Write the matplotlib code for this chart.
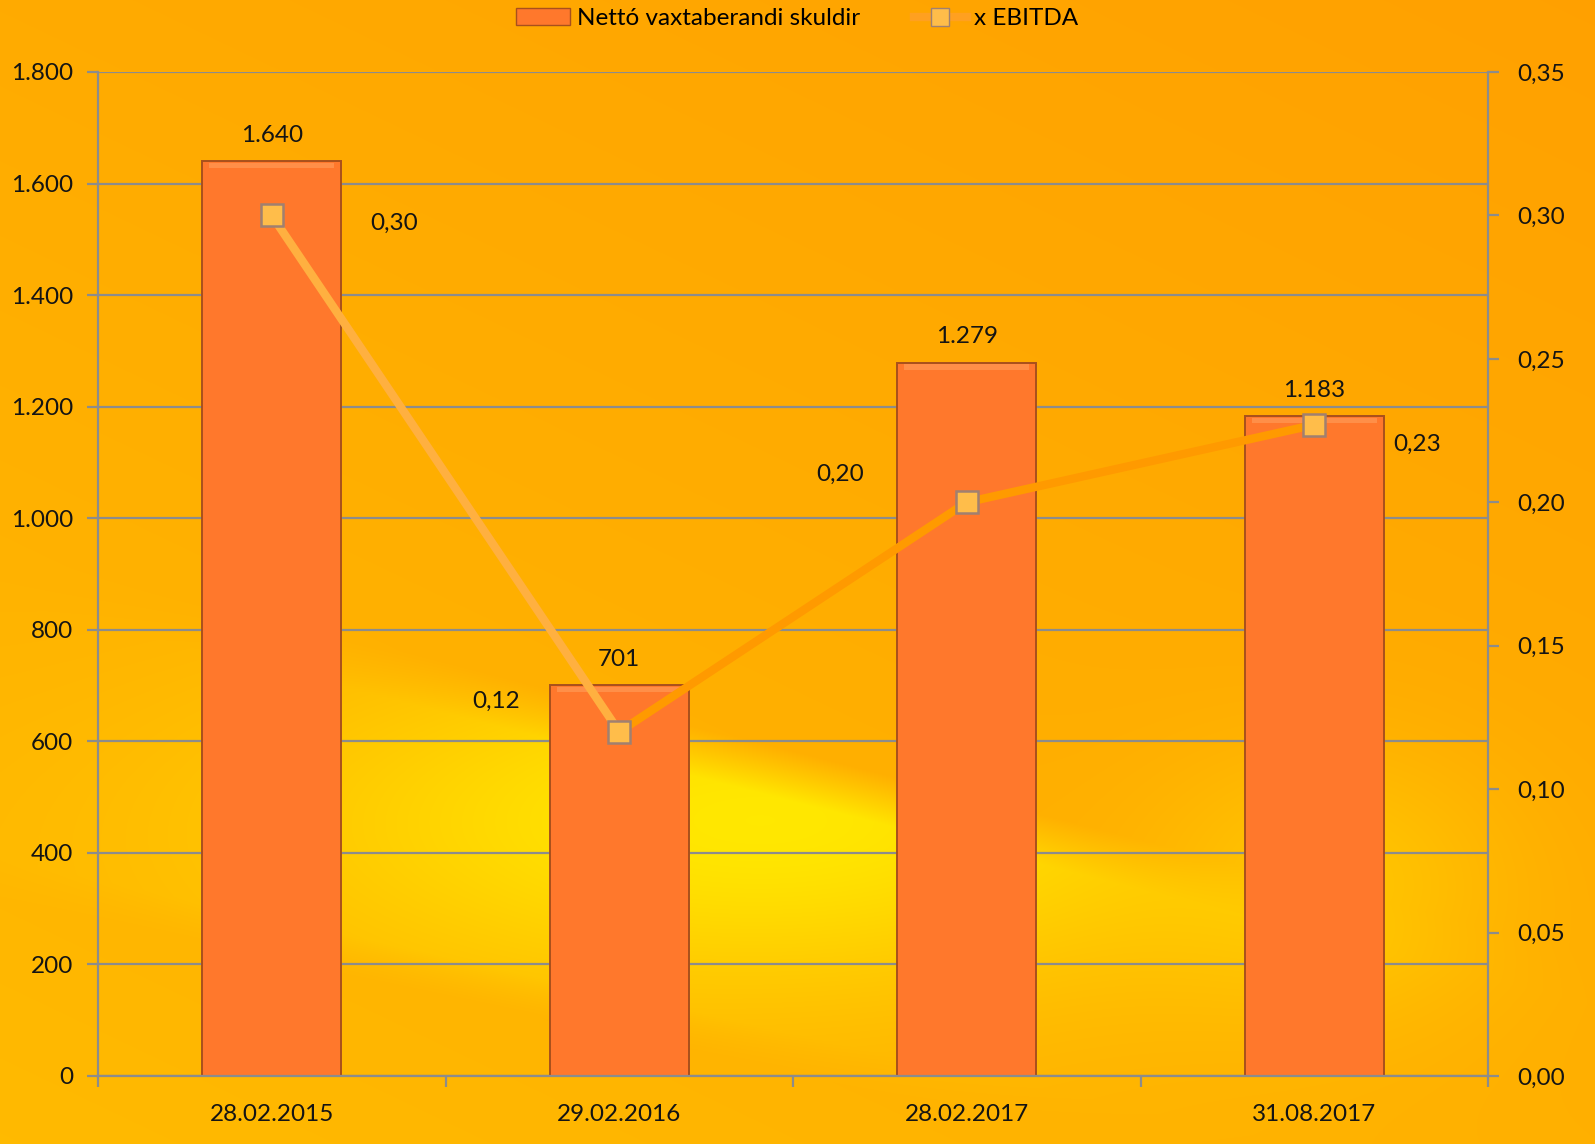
import numpy as np
import matplotlib
matplotlib.use("Agg")
import matplotlib.pyplot as plt
from matplotlib.lines import Line2D
from matplotlib.patches import Patch

categories = ["28.02.2015", "29.02.2016", "28.02.2017", "31.08.2017"]
debt = [1640, 701, 1279, 1183]
debt_labels = ["1.640", "701", "1.279", "1.183"]
ebitda = [0.30, 0.12, 0.20, 0.227]
ebitda_labels = ["0,30", "0,12", "0,20", "0,23"]
left_ticks = [0, 200, 400, 600, 800, 1000, 1200, 1400, 1600, 1800]
left_ticklabels = ["0", "200", "400", "600", "800", "1.000", "1.200", "1.400", "1.600", "1.800"]
right_ticks = [0.0, 0.05, 0.10, 0.15, 0.20, 0.25, 0.30, 0.35]
right_ticklabels = ["0,00", "0,05", "0,10", "0,15", "0,20", "0,25", "0,30", "0,35"]

plt.rcParams['font.family'] = ['Lato', 'DejaVu Sans']
FS = 17.5
TXT = "#141414"

W, H = 1595, 1144
fig = plt.figure(figsize=(W / 100, H / 100), dpi=100)

# background texture (gradient)
yy, xx = np.mgrid[0:H, 0:W].astype(float)
orange = np.array([1.0, 0.63, 0.0])
amber = np.array([1.0, 0.73, 0.0])
yellow = np.array([1.0, 0.91, 0.0])
d = (yy - (600 + (xx - 100) * (380 / 1495)))
band = np.clip(d / 50 + 0.5, 0, 1) * np.exp(-((xx - 760) / 480) ** 2 - ((yy - 820) / 170) ** 2)
edge = np.clip(((640 + (xx - 100) * (330 / 1495)) + 260 - yy) / 40 + 0.5, 0, 1)
band = band * edge
t = np.clip((yy / H) * 0.6 + (1 - xx / W) * 0.4, 0, 1)
base = orange[None, None, :] * (1 - t[..., None]) + amber[None, None, :] * t[..., None]
img = base * (1 - band[..., None]) + yellow[None, None, :] * band[..., None]
b2 = np.exp(-((xx - 1330) / 170) ** 2 - ((yy - 880) / 130) ** 2) * 0.4
img = img * (1 - b2[..., None]) + yellow[None, None, :] * b2[..., None]
bg = fig.add_axes([0, 0, 1, 1], zorder=-10)
bg.imshow(img, aspect='auto', extent=[0, 1, 0, 1], origin='upper')
bg.axis('off')

left = 98 / W
right = 1488 / W
bottom = 1 - 1076 / H
top = 1 - 72 / H
ax = fig.add_axes([left, bottom, right - left, top - bottom])
ax.patch.set_alpha(0)
ax2 = ax.twinx()
ax2.patch.set_alpha(0)

x = np.arange(len(categories))
gridc = "#8c8c8c"
ax.set_axisbelow(True)
ax.yaxis.grid(True, color=gridc, linewidth=1.6)
bars = ax.bar(x, debt, width=0.4, color="#ff782c", edgecolor="#a8501c", linewidth=1.4, zorder=2)
# bevel highlight on bar tops
for xi, v in zip(x, debt):
    ax.bar(xi, 10, bottom=v - 13, width=0.36, color="#ff9550", linewidth=0, zorder=3, alpha=0.8)
for xi, v, lab in zip(x, debt, debt_labels):
    ax.annotate(lab, (xi, v), xytext=(0, 11), textcoords='offset points',
                ha='center', va='bottom', fontsize=FS, color=TXT)

ax.set_xlim(-0.5, 3.5)
ax.set_ylim(0, 1800)
ax.set_yticks(left_ticks)
ax.set_yticklabels(left_ticklabels, fontsize=FS, color=TXT)
ax.set_xticks(x)
ax.set_xticklabels(categories, fontsize=FS, color=TXT)
ax.set_xticks(np.arange(-0.5, 4.0, 1.0), minor=True)
ax.tick_params(axis='x', which='major', length=0, pad=20)
ax.tick_params(axis='x', which='minor', length=8, color=gridc, width=1.6, direction='out')
ax.tick_params(axis='y', length=8, color=gridc, width=1.6, pad=10)
for s in ['top', 'right']:
    ax.spines[s].set_visible(False)
for s in ['left', 'bottom']:
    ax.spines[s].set_color(gridc)
    ax.spines[s].set_linewidth(1.6)

# line with segment colors
seg_colors = ["#ffb040", "#ff9a00", "#ff9a00"]
for i in range(len(x) - 1):
    ax2.plot(x[i:i + 2], ebitda[i:i + 2], color=seg_colors[i], linewidth=6, solid_capstyle='butt', zorder=4)
ax2.plot(x, ebitda, linestyle='none', marker='s', markersize=16, markerfacecolor="#ffbd4a",
         markeredgecolor="#a08070", markeredgewidth=1.8, zorder=5)
offsets = [(88, -6), (-89, 22), (-91, 20), (74, -14)]
for xi, v, lab, off in zip(x, ebitda, ebitda_labels, offsets):
    ax2.annotate(lab, (xi, v), xytext=off, textcoords='offset points',
                 ha='center', va='center', fontsize=FS, color=TXT)
ax2.set_ylim(0, 0.35)
ax2.set_yticks(right_ticks)
ax2.set_yticklabels(right_ticklabels, fontsize=FS, color=TXT)
ax2.tick_params(axis='y', length=8, color=gridc, width=1.6, pad=13)
for s in ['top', 'left', 'bottom']:
    ax2.spines[s].set_visible(False)
ax2.spines['right'].set_color(gridc)
ax2.spines['right'].set_linewidth(1.6)

handles = [Patch(facecolor="#ff782c", edgecolor="#a8501c"),
           Line2D([0], [0], color="#ffa020", linewidth=6, marker='s', markersize=13,
                  markerfacecolor="#ffbd4a", markeredgecolor="#a08070")]
fig.legend(handles, ["Nettó vaxtaberandi skuldir", "x EBITDA"], loc='upper center',
           bbox_to_anchor=(0.5, 1.012), ncol=2, frameon=False, fontsize=FS,
           handlelength=2.2, handletextpad=0.3, columnspacing=2.2)

fig.savefig("out.png", dpi=100)
